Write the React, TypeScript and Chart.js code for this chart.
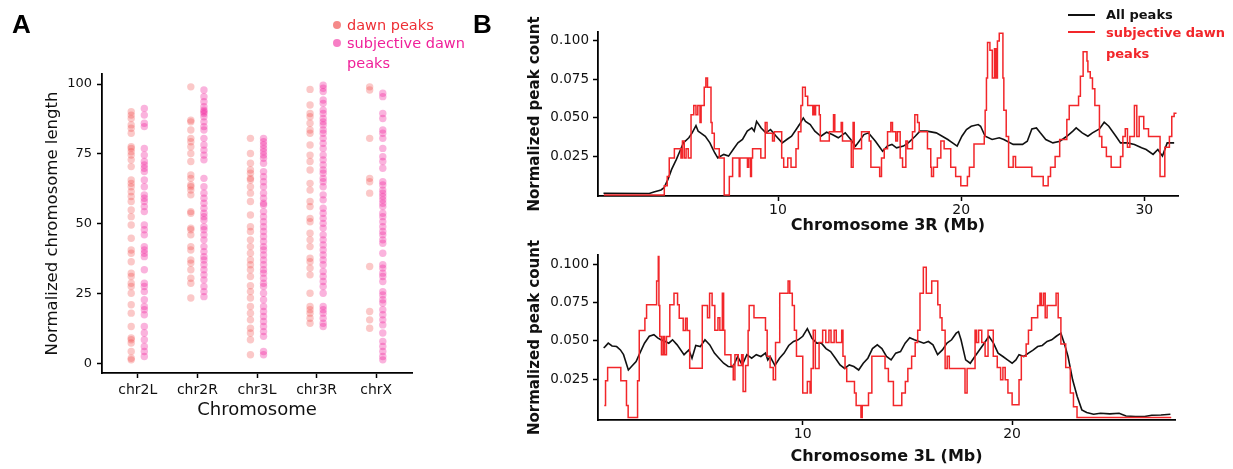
import React, { useEffect, useRef } from 'react';
import { Chart, registerables } from 'chart.js';
Chart.register(...registerables);

const FONT = "'DejaVu Sans', 'Open Sans', sans-serif";

// ---------- Panel A data ----------
const chromosomes = ['chr2L', 'chr2R', 'chr3L', 'chr3R', 'chrX'];
const yTicksA = [0, 25, 50, 75, 100];

const dawnChr2L = [90.1, 88.9, 87.7, 85.4, 84.2, 82.4, 77.6, 77, 75.8, 74.6, 72.9, 70.5, 65.7, 64.5, 63.3, 61.5, 59.8, 58, 55, 52.6, 49.6, 44.9, 40.7, 39.5, 36.5, 32.4, 31.2, 28.8, 27.6, 25.2, 21.1, 18.1, 13.3, 9.2, 8.6, 7.4, 4.4, 2.0, 1.4];
const subjChr2L = [91.3, 88.9, 86, 84.8, 77, 74.6, 72.3, 71.1, 69.9, 68.7, 65.7, 63.3, 60.4, 59.2, 58, 56.2, 54.4, 49.6, 47.9, 46.1, 41.9, 40.7, 39.5, 38.3, 33.6, 28.8, 27.6, 25.8, 22.9, 20.5, 19.3, 17.5, 13.3, 11, 8.6, 6.2, 4.4, 2.6];
const dawnChr2R = [99, 87.1, 86.5, 83.6, 80.6, 79.4, 77.6, 75.2, 72.3, 67.5, 66.3, 63.9, 63.3, 62.1, 60.4, 54.4, 53.8, 48.5, 47.9, 46.1, 41.9, 40.7, 37.1, 36, 33.6, 30.6, 28.8, 23.5];
const subjChr2R = [97.9, 95.5, 93.7, 91.9, 90.7, 90.1, 89.5, 88.3, 86.5, 84.8, 83.6, 80.6, 78.2, 76.4, 74.6, 72.9, 66.3, 63.3, 61, 59.2, 57.4, 55.6, 53.8, 52.6, 51.4, 49, 47.9, 46.1, 44.3, 41.9, 40.1, 38.3, 37.1, 35.4, 33.6, 31.8, 30, 27.6, 25.8, 24];
const dawnChr3L = [80.6, 75.2, 71.7, 69.3, 68.1, 66.3, 65.7, 63.3, 61, 58, 53.2, 49, 47.3, 44.3, 41.9, 39.5, 37.1, 35.4, 33.6, 31.2, 27.9, 25.8, 23.5, 20.5, 18.1, 15.7, 12.7, 11, 8.6, 3.2];
const subjChr3L = [80.6, 79.4, 78.2, 77, 75.8, 74.6, 73.5, 71.7, 68.7, 66.9, 65.1, 63.3, 61, 59.2, 57.4, 56.8, 54.4, 52.6, 50.8, 49, 47.3, 45.5, 43.7, 41.9, 40.7, 38.9, 37.1, 35.4, 33.6, 32.4, 30.6, 28.8, 27.6, 25.2, 22.9, 20.5, 18.7, 16.9, 15.1, 13.3, 11.5, 9.8, 4.4, 3.2];
const dawnChr3R = [98.1, 92.5, 89.5, 88.3, 86, 83.6, 82.4, 78.2, 74.6, 72.3, 69.3, 64.5, 62.1, 58, 56.2, 52, 50.8, 46.7, 44.3, 41.9, 37.7, 36.5, 34.2, 31.8, 25.2, 20.5, 19.3, 18.1, 16.3, 14.5];
const subjChr3R = [99.6, 98.5, 97.3, 94.3, 93.1, 90.7, 89.5, 87.7, 86.5, 85.4, 83.6, 82.4, 80.6, 78.8, 77, 74.6, 72.9, 71.1, 69.3, 68.1, 66.3, 65.1, 63.3, 60.4, 58.6, 55.6, 53.8, 52, 50.2, 48.5, 46.1, 44.3, 42.5, 40.7, 38.9, 37.1, 35.4, 33, 31.2, 29.4, 27.6, 25.2, 20.5, 19.3, 18.1, 16.3, 14.5, 13.3];
const dawnChrX = [99, 97.9, 80.6, 66.3, 65.1, 61, 34.8, 18.7, 15.7, 12.7];
const subjChrX = [96.7, 95.5, 89.5, 87.7, 83.6, 82.4, 80.6, 77, 74, 72.3, 69.9, 65.1, 63.9, 62.1, 61, 59.8, 58.6, 57.4, 56.2, 53.8, 52.6, 50.8, 49, 47.3, 46.1, 44.3, 43.1, 39.5, 35.4, 34.2, 32.4, 31.2, 29.4, 25.8, 24.6, 22.9, 21.7, 19.3, 17.5, 15.7, 13.9, 11, 8, 6.2, 4.4, 2.6, 1.4];

const dawnPeaks = [dawnChr2L, dawnChr2R, dawnChr3L, dawnChr3R, dawnChrX];
const subjPeaks = [subjChr2L, subjChr2R, subjChr3L, subjChr3R, subjChrX];

// ---------- Panel B data (position Mb, normalized count) ----------
const yTicksB = [0.025, 0.05, 0.075, 0.1];
const xTicks3R = [10, 20, 30];
const xTicks3L = [10, 20];

const subj3R: [number, number][] = [
  [0.49, 0], [3.79, 0.006], [3.95, 0.012], [4.06, 0.024], [4.34, 0.030], [4.70, 0.024], [4.78, 0.035], [4.88, 0.024],
  [4.98, 0.030], [5.10, 0.024], [5.25, 0.052], [5.40, 0.058], [5.52, 0.052], [5.62, 0.058], [5.74, 0.047], [5.80, 0.058],
  [5.97, 0.070], [6.06, 0.076], [6.15, 0.070], [6.34, 0.047], [6.40, 0.040], [6.52, 0.030], [6.79, 0.024], [7.06, 0],
  [7.34, 0.012], [7.52, 0.024], [7.88, 0.012], [7.92, 0.024], [8.33, 0.018], [8.40, 0.024], [8.50, 0.012], [8.55, 0.024],
  [8.61, 0.030], [9.06, 0.024], [9.30, 0.047], [9.40, 0.040], [9.70, 0.035], [9.80, 0.041], [10.20, 0.024], [10.31, 0.018],
  [10.53, 0.024], [10.71, 0.018], [10.98, 0.030], [11.11, 0.041], [11.25, 0.058], [11.34, 0.070], [11.49, 0.064], [11.62, 0.058],
  [11.90, 0.052], [11.95, 0.058], [12.00, 0.052], [12.05, 0.058], [12.25, 0.052], [12.31, 0.035], [12.80, 0.041], [13.03, 0.052],
  [13.10, 0.041], [13.45, 0.047], [13.52, 0.035], [14.00, 0.018], [14.10, 0.047], [14.16, 0.030], [14.56, 0.041], [14.98, 0.035],
  [15.07, 0.018], [15.55, 0.012], [15.65, 0.024], [15.80, 0.030], [15.98, 0.041], [16.16, 0.047], [16.25, 0.041], [16.43, 0.035],
  [16.52, 0.041], [16.67, 0.024], [16.80, 0.018], [16.98, 0.035], [17.07, 0.030], [17.34, 0.041], [17.47, 0.052], [17.62, 0.047],
  [17.71, 0.041], [18.16, 0.030], [18.34, 0.018], [18.38, 0.012], [18.49, 0.018], [18.70, 0.024], [18.89, 0.035], [19.07, 0.030],
  [19.43, 0.018], [19.70, 0.012], [19.98, 0.006], [20.34, 0.012], [20.45, 0.018], [20.70, 0.033], [21.26, 0.038], [21.31, 0.055],
  [21.38, 0.076], [21.44, 0.099], [21.57, 0.094], [21.70, 0.076], [21.82, 0.095], [21.90, 0.076], [21.98, 0.100], [22.08, 0.105],
  [22.28, 0.076], [22.33, 0.055], [22.46, 0.038], [22.59, 0.018], [22.84, 0.025], [22.97, 0.018], [23.86, 0.012], [24.48, 0.006],
  [24.75, 0.012], [24.88, 0.018], [25.13, 0.025], [25.38, 0.036], [25.77, 0.049], [25.90, 0.058], [26.41, 0.064], [26.51, 0.077],
  [26.66, 0.093], [26.87, 0.087], [26.92, 0.080], [27.05, 0.076], [27.17, 0.069], [27.30, 0.058], [27.55, 0.038], [27.68, 0.031],
  [27.93, 0.025], [28.19, 0.018], [28.70, 0.025], [28.83, 0.038], [28.96, 0.043], [29.08, 0.031], [29.21, 0.038], [29.46, 0.058],
  [29.59, 0.038], [29.72, 0.051], [29.97, 0.043], [30.23, 0.038], [30.86, 0.012], [31.12, 0.031], [31.37, 0.038], [31.50, 0.051],
  [31.63, 0.053], [31.76, 0.053],
];

const all3R: [number, number][] = [
  [0.47, 0.0011], [2.97, 0.0009], [3.22, 0.0019], [3.61, 0.0032], [3.78, 0.0047], [3.99, 0.0101], [4.19, 0.0166], [4.45, 0.0231],
  [4.68, 0.0295], [4.83, 0.0338], [5.13, 0.0371], [5.31, 0.0403], [5.52, 0.0450], [5.64, 0.0414], [5.77, 0.0403], [6.03, 0.0381],
  [6.28, 0.0338], [6.41, 0.0306], [6.54, 0.0274], [6.71, 0.0241], [7.04, 0.0263], [7.30, 0.0252], [7.55, 0.0295], [7.81, 0.0338],
  [8.06, 0.0360], [8.32, 0.0414], [8.57, 0.0435], [8.70, 0.0414], [8.83, 0.0478], [9.08, 0.0435], [9.34, 0.0403], [9.59, 0.0425],
  [9.90, 0.0381], [10.23, 0.0338], [10.48, 0.0360], [10.74, 0.0381], [10.99, 0.0425], [11.17, 0.0457], [11.38, 0.0500], [11.50, 0.0478],
  [11.76, 0.0457], [12.01, 0.0414], [12.34, 0.0381], [12.65, 0.0407], [12.96, 0.0392], [13.29, 0.0371], [13.67, 0.0403], [13.97, 0.0360],
  [14.23, 0.0317], [14.43, 0.0349], [14.69, 0.0392], [14.94, 0.0403], [15.32, 0.0349], [15.71, 0.0284], [15.96, 0.0317], [16.22, 0.0328],
  [16.47, 0.0306], [16.85, 0.0317], [17.11, 0.0338], [17.49, 0.0381], [17.75, 0.0414], [18.13, 0.0414], [18.64, 0.0403], [19.27, 0.0360],
  [19.53, 0.0338], [19.78, 0.0317], [20.04, 0.0381], [20.29, 0.0425], [20.55, 0.0446], [20.93, 0.0457], [21.06, 0.0446], [21.31, 0.0381],
  [21.69, 0.0360], [22.08, 0.0371], [22.33, 0.0360], [22.84, 0.0328], [23.35, 0.0328], [23.61, 0.0349], [23.86, 0.0429], [24.11, 0.0435],
  [24.32, 0.0403], [24.62, 0.0360], [25.01, 0.0338], [25.39, 0.0349], [25.77, 0.0381], [26.10, 0.0414], [26.28, 0.0435], [26.61, 0.0403],
  [26.92, 0.0381], [27.17, 0.0403], [27.55, 0.0429], [27.81, 0.0472], [28.06, 0.0446], [28.45, 0.0381], [28.70, 0.0338], [29.08, 0.0338],
  [29.46, 0.0328], [29.85, 0.0306], [30.10, 0.0295], [30.48, 0.0263], [30.74, 0.0295], [30.99, 0.0252], [31.25, 0.0338], [31.63, 0.0338],
];

const subj3L: [number, number][] = [
  [0.52, 0.0078], [0.58, 0.024], [0.68, 0.0326], [1.31, 0.024], [1.58, 0.0078], [1.66, 0], [2.11, 0.024], [2.19, 0.0567],
  [2.46, 0.0648], [2.54, 0.0735], [3.02, 0.089], [3.10, 0.105], [3.13, 0.073], [3.17, 0.0528], [3.25, 0.041], [3.33, 0.0528],
  [3.40, 0.041], [3.49, 0.0528], [3.65, 0.0735], [3.85, 0.081], [4.02, 0.0735], [4.10, 0.0648], [4.29, 0.0567], [4.40, 0.0648],
  [4.48, 0.0567], [4.60, 0.0322], [5.20, 0.073], [5.45, 0.065], [5.55, 0.081], [5.67, 0.073], [5.80, 0.057], [5.95, 0.065],
  [6.04, 0.057], [6.16, 0.081], [6.22, 0.057], [6.28, 0.041], [6.57, 0.034], [6.68, 0.0246], [6.76, 0.041], [6.92, 0.034],
  [7.08, 0.041], [7.15, 0.017], [7.27, 0.034], [7.39, 0.0567], [7.44, 0.073], [7.67, 0.065], [8.22, 0.057], [8.30, 0.040],
  [8.44, 0.0326], [8.59, 0.0246], [8.70, 0.049], [8.90, 0.081], [9.30, 0.089], [9.38, 0.081], [9.50, 0.073], [9.60, 0.057],
  [9.70, 0.040], [10.00, 0.016], [10.22, 0.0235], [10.35, 0.016], [10.40, 0.032], [10.50, 0.057], [10.60, 0.032], [10.78, 0.049],
  [10.95, 0.057], [11.10, 0.049], [11.25, 0.057], [11.35, 0.049], [11.50, 0.057], [11.60, 0.049], [11.86, 0.057], [11.92, 0.040],
  [12.02, 0.032], [12.10, 0.0235], [12.47, 0.016], [12.55, 0.0078], [12.78, 0], [12.84, 0.0078], [13.14, 0.016], [13.30, 0.040],
  [13.93, 0.032], [14.09, 0.0235], [14.33, 0.0078], [14.73, 0.016], [14.90, 0.0235], [15.02, 0.032], [15.20, 0.040], [15.37, 0.049],
  [15.49, 0.057], [15.60, 0.081], [15.76, 0.098], [15.90, 0.081], [16.16, 0.089], [16.45, 0.0735], [16.56, 0.065], [16.65, 0.057],
  [16.80, 0.032], [16.90, 0.040], [17.00, 0.032], [17.75, 0.016], [17.85, 0.032], [18.23, 0.057], [18.30, 0.049], [18.40, 0.057],
  [18.55, 0.049], [18.71, 0.040], [18.85, 0.057], [19.10, 0.040], [19.29, 0.0326], [19.45, 0.0246], [19.56, 0.0326], [19.67, 0.0246],
  [19.80, 0.016], [20.00, 0.0083], [20.33, 0.0246], [20.44, 0.040], [20.67, 0.048], [20.78, 0.057], [20.93, 0.065], [21.22, 0.073],
  [21.33, 0.081], [21.40, 0.073], [21.50, 0.081], [21.58, 0.065], [21.67, 0.073], [22.10, 0.081], [22.20, 0.065], [22.33, 0.048],
  [22.56, 0.0326], [22.78, 0.016], [22.93, 0.007], [23.10, 0], [27.60, 0],
];

const all3L: [number, number][] = [
  [0.49, 0.0455], [0.56, 0.0463], [0.71, 0.0485], [0.89, 0.0467], [1.11, 0.0463], [1.29, 0.0441], [1.44, 0.041], [1.67, 0.031],
  [1.82, 0.0333], [2.04, 0.0365], [2.22, 0.042], [2.44, 0.0485], [2.67, 0.053], [2.89, 0.054], [3.07, 0.052], [3.22, 0.0507],
  [3.44, 0.0496], [3.60, 0.0485], [3.78, 0.0507], [4.00, 0.0474], [4.33, 0.041], [4.56, 0.0441], [4.71, 0.0387], [4.89, 0.047],
  [5.11, 0.0463], [5.33, 0.0507], [5.56, 0.0474], [5.78, 0.042], [6.00, 0.0387], [6.22, 0.0354], [6.44, 0.0333], [6.67, 0.033],
  [6.89, 0.0398], [7.11, 0.0343], [7.33, 0.041], [7.56, 0.0387], [7.78, 0.041], [8.00, 0.0398], [8.22, 0.042], [8.33, 0.0376],
  [8.44, 0.0398], [8.67, 0.034], [8.89, 0.0387], [9.11, 0.042], [9.33, 0.047], [9.56, 0.0496], [9.78, 0.0507], [10.00, 0.053],
  [10.22, 0.058], [10.44, 0.0517], [10.67, 0.0485], [10.89, 0.0485], [11.11, 0.045], [11.33, 0.043], [11.56, 0.0387], [11.78, 0.0343],
  [12.00, 0.032], [12.22, 0.0343], [12.44, 0.0333], [12.67, 0.031], [12.89, 0.0354], [13.11, 0.0387], [13.33, 0.045], [13.56, 0.0474],
  [13.78, 0.045], [14.00, 0.0398], [14.22, 0.0376], [14.44, 0.042], [14.67, 0.043], [14.89, 0.0485], [15.11, 0.052], [15.33, 0.0507],
  [15.56, 0.0496], [15.78, 0.0485], [16.00, 0.0496], [16.22, 0.0474], [16.44, 0.041], [16.67, 0.0441], [16.89, 0.0485], [17.11, 0.0507],
  [17.33, 0.055], [17.44, 0.056], [17.56, 0.0507], [17.78, 0.0376], [18.00, 0.0354], [18.22, 0.0398], [18.44, 0.0441], [18.67, 0.0485],
  [18.89, 0.053], [19.11, 0.0485], [19.33, 0.042], [19.56, 0.0398], [19.78, 0.0376], [20.00, 0.0354], [20.18, 0.0376], [20.33, 0.041],
  [20.56, 0.0398], [20.78, 0.042], [21.00, 0.044], [21.22, 0.0463], [21.44, 0.047], [21.67, 0.0496], [21.89, 0.0507], [22.11, 0.053],
  [22.33, 0.055], [22.49, 0.0485], [22.67, 0.0398], [22.89, 0.0246], [23.11, 0.0137], [23.33, 0.005], [23.56, 0.0033], [23.89, 0.0022],
  [24.22, 0.0028], [24.67, 0.0024], [25.11, 0.0028], [25.44, 0.001], [25.89, 0.0007], [26.33, 0.0007], [26.67, 0.0015], [27.11, 0.0017],
  [27.56, 0.0022],
];

// ---------- styling ----------
const DAWN_DOT = 'rgba(239, 59, 59, 0.28)';
const SUBJ_DOT = 'rgba(240, 20, 150, 0.32)';
const DAWN_TEXT = '#EE2F35';
const SUBJ_TEXT = '#F0209A';
const RED_LINE = '#F2262A';

function fixedTicks(values: number[]) {
  return (scale: any) => {
    scale.ticks = values.map((v) => ({ value: v }));
  };
}

function axisBase(fontSize: number, weight: any = 'normal') {
  return {
    grid: { drawOnChartArea: false, drawTicks: true, tickLength: 5, tickWidth: 1.5, tickColor: '#000' },
    border: { display: true, color: '#000', width: 1.8 },
    ticks: { color: '#111', font: { family: FONT, size: fontSize, weight }, padding: 3, autoSkip: false, maxRotation: 0 },
  };
}

function ChartCanvas({ config, style }: { config: () => any; style: React.CSSProperties }) {
  const ref = useRef<HTMLCanvasElement | null>(null);
  useEffect(() => {
    if (!ref.current) return;
    const chart = new Chart(ref.current, config());
    return () => chart.destroy();
  }, []);
  return (
    <div style={{ position: 'absolute', ...style }}>
      <canvas ref={ref} />
    </div>
  );
}

const OFFSET = 0.11;

function configA() {
  const dawnData = dawnPeaks.flatMap((vals, i) => vals.map((v) => ({ x: i + 1 - OFFSET, y: v })));
  const subjData = subjPeaks.flatMap((vals, i) => vals.map((v) => ({ x: i + 1 + OFFSET, y: v })));
  const xBase = axisBase(14);
  const yBase = axisBase(13);
  return {
    type: 'scatter',
    data: {
      datasets: [
        { label: 'dawn peaks', data: dawnData, backgroundColor: DAWN_DOT, borderWidth: 0, pointRadius: 3.7 },
        { label: 'subjective dawn peaks', data: subjData, backgroundColor: SUBJ_DOT, borderWidth: 0, pointRadius: 3.7 },
      ],
    },
    options: {
      animation: false,
      responsive: true,
      maintainAspectRatio: false,
      events: [],
      layout: { padding: { left: 0, right: 28, top: 74, bottom: 0 } },
      plugins: { legend: { display: false }, tooltip: { enabled: false } },
      scales: {
        x: {
          type: 'linear',
          min: 0.4,
          max: 5.6,
          ...xBase,
          ticks: { ...xBase.ticks, padding: 4, callback: (v: number) => chromosomes[Math.round(v) - 1] ?? '' },
          afterBuildTicks: fixedTicks([1, 2, 3, 4, 5]),
          afterFit: (s: any) => { s.height = 96; },
          title: { display: true, text: 'Chromosome', color: '#111', font: { family: FONT, size: 18 }, padding: { top: 0, bottom: 48 } },
        },
        y: {
          type: 'linear',
          min: -3.3,
          max: 103.6,
          ...yBase,
          ticks: { ...yBase.ticks, padding: 5, callback: (v: number) => String(v) },
          afterBuildTicks: fixedTicks(yTicksA),
          afterFit: (s: any) => { s.width = 102; },
          title: { display: true, text: 'Normalized chromosome length', color: '#111', font: { family: FONT, size: 16.5 }, padding: { top: 43, bottom: 0 } },
        },
      },
    },
  };
}

function configB(
  subj: [number, number][],
  all: [number, number][],
  opts: { xMin: number; xMax: number; yMin: number; yMax: number; xTicks: number[]; title: string; pad: any; xHeight: number; titleBottom: number }
) {
  const xBase = axisBase(14);
  const yBase = axisBase(13.5);
  return {
    type: 'line',
    data: {
      datasets: [
        {
          label: 'subjective dawn peaks',
          data: subj.map(([x, y]) => ({ x, y })),
          borderColor: RED_LINE,
          borderWidth: 1.5,
          pointRadius: 0,
          stepped: true,
          fill: false,
        },
        {
          label: 'All peaks',
          data: all.map(([x, y]) => ({ x, y })),
          borderColor: '#111',
          borderWidth: 1.6,
          pointRadius: 0,
          tension: 0,
          fill: false,
        },
      ],
    },
    options: {
      animation: false,
      responsive: true,
      maintainAspectRatio: false,
      events: [],
      layout: { padding: opts.pad },
      plugins: { legend: { display: false }, tooltip: { enabled: false } },
      scales: {
        x: {
          type: 'linear',
          min: opts.xMin,
          max: opts.xMax,
          ...xBase,
          ticks: { ...xBase.ticks, padding: 1, callback: (v: number) => String(v) },
          afterBuildTicks: fixedTicks(opts.xTicks),
          afterFit: (s: any) => { s.height = opts.xHeight; },
          title: { display: true, text: opts.title, color: '#111', font: { family: FONT, size: 16, weight: 'bold' }, padding: { top: 0, bottom: opts.titleBottom } },
        },
        y: {
          type: 'linear',
          min: opts.yMin,
          max: opts.yMax,
          ...yBase,
          ticks: { ...yBase.ticks, padding: 4, callback: (v: number) => Number(v).toFixed(3) },
          afterBuildTicks: fixedTicks(yTicksB),
          afterFit: (s: any) => { s.width = 118; },
          title: { display: true, text: 'Normalized peak count', color: '#111', font: { family: FONT, size: 15, weight: 'bold' }, padding: { top: 46, bottom: 0 } },
        },
      },
    },
  };
}

export default function App() {
  useEffect(() => {
    document.body.style.margin = '0';
  }, []);
  const letter: React.CSSProperties = { position: 'absolute', fontFamily: "'Liberation Sans', Arial, sans-serif", fontWeight: 'bold', fontSize: 26, color: '#000', lineHeight: '26px' };
  const legendText: React.CSSProperties = { position: 'absolute', fontFamily: FONT, fontSize: 15, lineHeight: '20px', whiteSpace: 'nowrap' };
  return (
    <div style={{ position: 'absolute', left: 0, top: 0, width: 1233, height: 469, background: '#fff', overflow: 'hidden' }}>
      <ChartCanvas config={configA} style={{ left: 0, top: 0, width: 440, height: 469 }} />
      <ChartCanvas
        config={() =>
          configB(subj3R, all3R, {
            xMin: 0.17, xMax: 31.84, yMin: -0.0007, yMax: 0.1058, xTicks: xTicks3R, title: 'Chromosome 3R (Mb)',
            pad: { left: 0, right: 55, top: 32, bottom: 0 }, xHeight: 39, titleBottom: 0,
          })
        }
        style={{ left: 480, top: 0, width: 753, height: 235 }}
      />
      <ChartCanvas
        config={() =>
          configB(subj3L, all3L, {
            xMin: 0.22, xMax: 27.78, yMin: -0.0016, yMax: 0.106, xTicks: xTicks3L, title: 'Chromosome 3L (Mb)',
            pad: { left: 0, right: 58, top: 20, bottom: 0 }, xHeight: 49, titleBottom: 3,
          })
        }
        style={{ left: 480, top: 235, width: 753, height: 234 }}
      />
      <div style={{ ...letter, left: 12, top: 11 }}>A</div>
      <div style={{ ...letter, left: 473, top: 11 }}>B</div>
      {/* Panel A legend */}
      <div style={{ position: 'absolute', left: 333, top: 21, width: 8, height: 8, borderRadius: 4, background: 'rgba(239, 59, 59, 0.6)' }} />
      <div style={{ position: 'absolute', left: 333, top: 39, width: 8, height: 8, borderRadius: 4, background: 'rgba(240, 20, 150, 0.55)' }} />
      <div style={{ ...legendText, left: 347, top: 15, color: DAWN_TEXT, fontSize: 14.5 }}>dawn peaks</div>
      <div style={{ ...legendText, left: 347, top: 33, color: SUBJ_TEXT, fontSize: 14.5 }}>subjective dawn<br />peaks</div>
      {/* Panel B legend */}
      <div style={{ position: 'absolute', left: 1068, top: 14, width: 27, height: 1.6, background: '#111' }} />
      <div style={{ position: 'absolute', left: 1068, top: 31, width: 27, height: 1.6, background: RED_LINE }} />
      <div style={{ ...legendText, left: 1106, top: 5, color: '#111', fontWeight: 'bold', fontSize: 13 }}>All peaks</div>
      <div style={{ ...legendText, left: 1106, top: 22, color: RED_LINE, fontWeight: 'bold', fontSize: 13, lineHeight: '21px' }}>subjective dawn<br />peaks</div>
    </div>
  );
}
